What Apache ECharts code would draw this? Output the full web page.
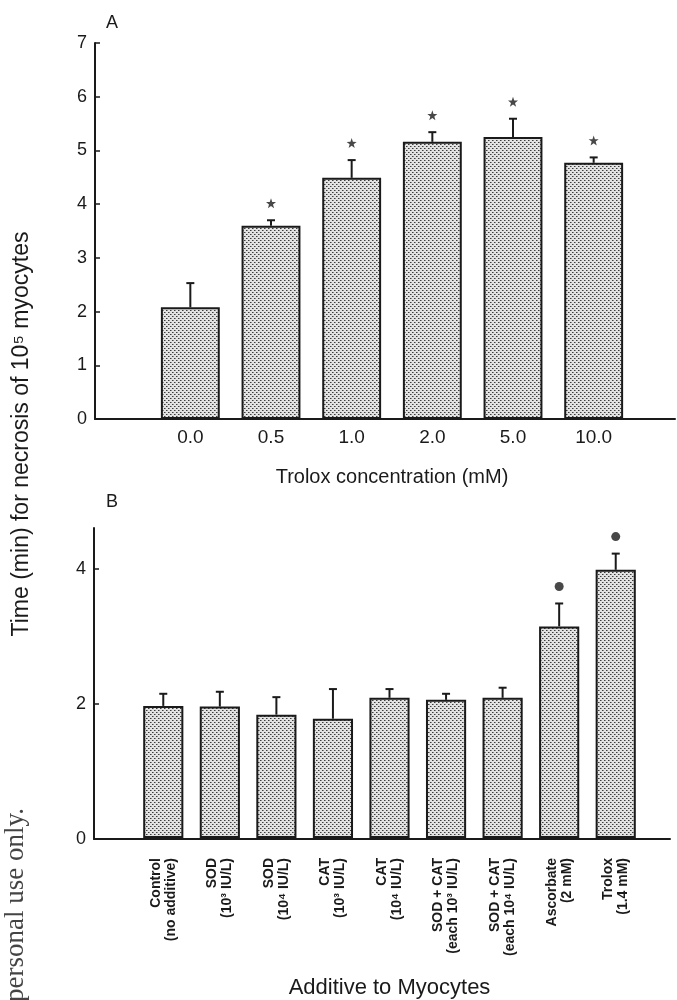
<!DOCTYPE html>
<html>
<head>
<meta charset="utf-8">
<title>Trolox necrosis</title>
<script src="https://cdn.jsdelivr.net/npm/echarts@6.0.0/dist/echarts.min.js"></script>
<style>
  html, body { margin: 0; padding: 0; background: #fff; }
  #main { width: 677px; height: 1000px; }
</style>
</head>
<body>
<div id="main"></div>
<script>
// panel A: Trolox concentration (mM)
const catsA = ['0.0', '0.5', '1.0', '2.0', '5.0', '10.0'];
const meanA = [2.08, 3.60, 4.49, 5.16, 5.25, 4.77];
const errA = [0.45, 0.10, 0.33, 0.18, 0.34, 0.10];
const sigA = [false, true, true, true, true, true];
const yTicksA = [0, 1, 2, 3, 4, 5, 6, 7];

// panel B: additive to myocytes
const catsB = [
  'Control\n(no additive)',
  'SOD\n(10³ IU/L)',
  'SOD\n(10⁴ IU/L)',
  'CAT\n(10³ IU/L)',
  'CAT\n(10⁴ IU/L)',
  'SOD + CAT\n(each 10³ IU/L)',
  'SOD + CAT\n(each 10⁴ IU/L)',
  'Ascorbate\n(2 mM)',
  'Trolox\n(1.4 mM)'
];
const meanB = [1.96, 1.95, 1.83, 1.77, 2.08, 2.05, 2.08, 3.14, 3.98];
const errB = [0.18, 0.22, 0.26, 0.44, 0.13, 0.09, 0.15, 0.34, 0.24];
const sigB = [false, false, false, false, false, false, false, true, true];
const yTicksB = [0, 2, 4];

const FONT = '"Liberation Sans", Arial, Helvetica, sans-serif';
const INK = '#1a1a1a';

// stipple fill like the printed halftone
function dotPattern() {
  const c = document.createElement('canvas');
  c.width = 4; c.height = 4;
  const g = c.getContext('2d');
  g.fillStyle = '#e2e2e2';
  g.fillRect(0, 0, 4, 4);
  g.fillStyle = '#3c3c3c';
  g.fillRect(0, 0, 1, 1);
  g.fillRect(2, 2, 1, 1);
  g.fillStyle = '#8c8c8c';
  g.fillRect(1, 0, 1, 1);
  g.fillRect(3, 2, 1, 1);
  return c;
}
const pattern = { image: dotPattern(), repeat: 'repeat' };

const starPath = 'path://M0,-10 L2.35,-3.24 L9.51,-3.09 L3.8,1.24 L5.88,8.09 L0,4 L-5.88,8.09 L-3.8,1.24 L-9.51,-3.09 L-2.35,-3.24 Z';

function errorRender(params, api) {
  const base = api.coord([api.value(0), api.value(1)]);
  const top = api.coord([api.value(0), api.value(2)]);
  const style = { stroke: INK, lineWidth: 2 };
  return {
    type: 'group',
    children: [
      { type: 'line', shape: { x1: base[0], y1: base[1], x2: top[0], y2: top[1] }, style },
      { type: 'line', shape: { x1: top[0] - 4, y1: top[1], x2: top[0] + 4, y2: top[1] }, style }
    ]
  };
}

const errDataA = meanA.map((m, i) => [i, m, +(m + errA[i]).toFixed(2)]);
const errDataB = meanB.map((m, i) => [i, m, +(m + errB[i]).toFixed(2)]);
const sigDataA = meanA.map((m, i) => sigA[i] ? +(m + errA[i]).toFixed(2) : '-');
const sigDataB = meanB.map((m, i) => sigB[i] ? +(m + errB[i]).toFixed(2) : '-');

const frameX = {
  type: 'value', min: 0, max: 1,
  axisLine: { show: true, lineStyle: { color: INK, width: 2 } },
  axisTick: { show: false }, axisLabel: { show: false }, splitLine: { show: false }
};
const hiddenY = (max) => ({
  type: 'value', min: 0, max: max, show: false, splitLine: { show: false }
});
const tickLabel = { color: INK, fontFamily: FONT, fontSize: 18, margin: 8 };

const chart = echarts.init(document.getElementById('main'));
chart.setOption({
  backgroundColor: '#fff',
  animation: false,
  grid: [
    { left: 95, right: 2, top: 43, height: 376 },        // A frame
    { left: 150, width: 484, top: 43, height: 376 },     // A bars
    { left: 94, right: 7, top: 528, height: 311 },       // B frame
    { left: 135, width: 509, top: 528, height: 311 }     // B bars
  ],
  xAxis: [
    Object.assign({ gridIndex: 0 }, frameX),
    {
      gridIndex: 1, type: 'category', data: catsA,
      axisLine: { show: false }, axisTick: { show: false },
      axisLabel: { color: INK, fontFamily: FONT, fontSize: 19, margin: 9 },
      name: 'Trolox concentration (mM)', nameLocation: 'middle', nameGap: 48,
      nameTextStyle: { color: INK, fontFamily: FONT, fontSize: 20 }
    },
    Object.assign({ gridIndex: 2 }, frameX),
    {
      gridIndex: 3, type: 'category', data: catsB,
      axisLine: { show: false }, axisTick: { show: false },
      axisLabel: {
        color: INK, fontFamily: FONT, fontSize: 14, fontWeight: 'bold',
        lineHeight: 15, rotate: 90, interval: 0, margin: 20
      },
      name: 'Additive to Myocytes', nameLocation: 'middle', nameGap: 139,
      nameTextStyle: { color: INK, fontFamily: FONT, fontSize: 22 }
    }
  ],
  yAxis: [
    {
      gridIndex: 0, type: 'value', min: 0, max: 7,
      axisLine: { show: true, lineStyle: { color: INK, width: 2 } },
      axisTick: { show: true, inside: true, length: 5, lineStyle: { color: INK, width: 1.5 }, customValues: yTicksA },
      axisLabel: Object.assign({ customValues: yTicksA }, tickLabel),
      splitLine: { show: false }
    },
    Object.assign({ gridIndex: 1 }, hiddenY(7)),
    {
      gridIndex: 2, type: 'value', min: 0, max: 4.6,
      axisLine: { show: true, lineStyle: { color: INK, width: 2 } },
      axisTick: { show: true, inside: true, length: 5, lineStyle: { color: INK, width: 1.5 }, customValues: yTicksB },
      axisLabel: Object.assign({ customValues: yTicksB }, tickLabel),
      splitLine: { show: false }
    },
    Object.assign({ gridIndex: 3 }, hiddenY(4.6))
  ],
  series: [
    {
      type: 'bar', xAxisIndex: 1, yAxisIndex: 1, data: meanA, barWidth: '73%',
      itemStyle: { color: pattern, borderColor: INK, borderWidth: 2 }
    },
    {
      type: 'custom', xAxisIndex: 1, yAxisIndex: 1, data: errDataA,
      renderItem: errorRender, z: 5
    },
    {
      type: 'scatter', xAxisIndex: 1, yAxisIndex: 1, data: sigDataA,
      symbol: starPath, symbolSize: 10, symbolOffset: [0, -17],
      itemStyle: { color: INK }
    },
    {
      type: 'bar', xAxisIndex: 3, yAxisIndex: 3, data: meanB, barWidth: '71%',
      itemStyle: { color: pattern, borderColor: INK, borderWidth: 2 }
    },
    {
      type: 'custom', xAxisIndex: 3, yAxisIndex: 3, data: errDataB,
      renderItem: errorRender, z: 5
    },
    {
      type: 'scatter', xAxisIndex: 3, yAxisIndex: 3, data: sigDataB,
      symbol: 'circle', symbolSize: 9, symbolOffset: [0, -17],
      itemStyle: { color: INK }
    }
  ],
  graphic: [
    { type: 'text', left: 106, top: 14, style: { text: 'A', font: '18px ' + FONT, fill: INK } },
    { type: 'text', left: 106, top: 493, style: { text: 'B', font: '18px ' + FONT, fill: INK } },
    {
      type: 'text', x: 22, y: 434, rotation: Math.PI / 2,
      style: {
        text: 'Time (min) for necrosis of 10⁵ myocytes', font: '23px ' + FONT,
        fill: INK, align: 'center', verticalAlign: 'middle'
      }
    },
    {
      type: 'text', x: 16, y: 808, rotation: Math.PI / 2,
      style: {
        text: 'personal use only.', font: '27px "Liberation Serif", "Times New Roman", serif',
        fill: '#444', align: 'right', verticalAlign: 'middle'
      }
    }
  ]
});
</script>
</body>
</html>
